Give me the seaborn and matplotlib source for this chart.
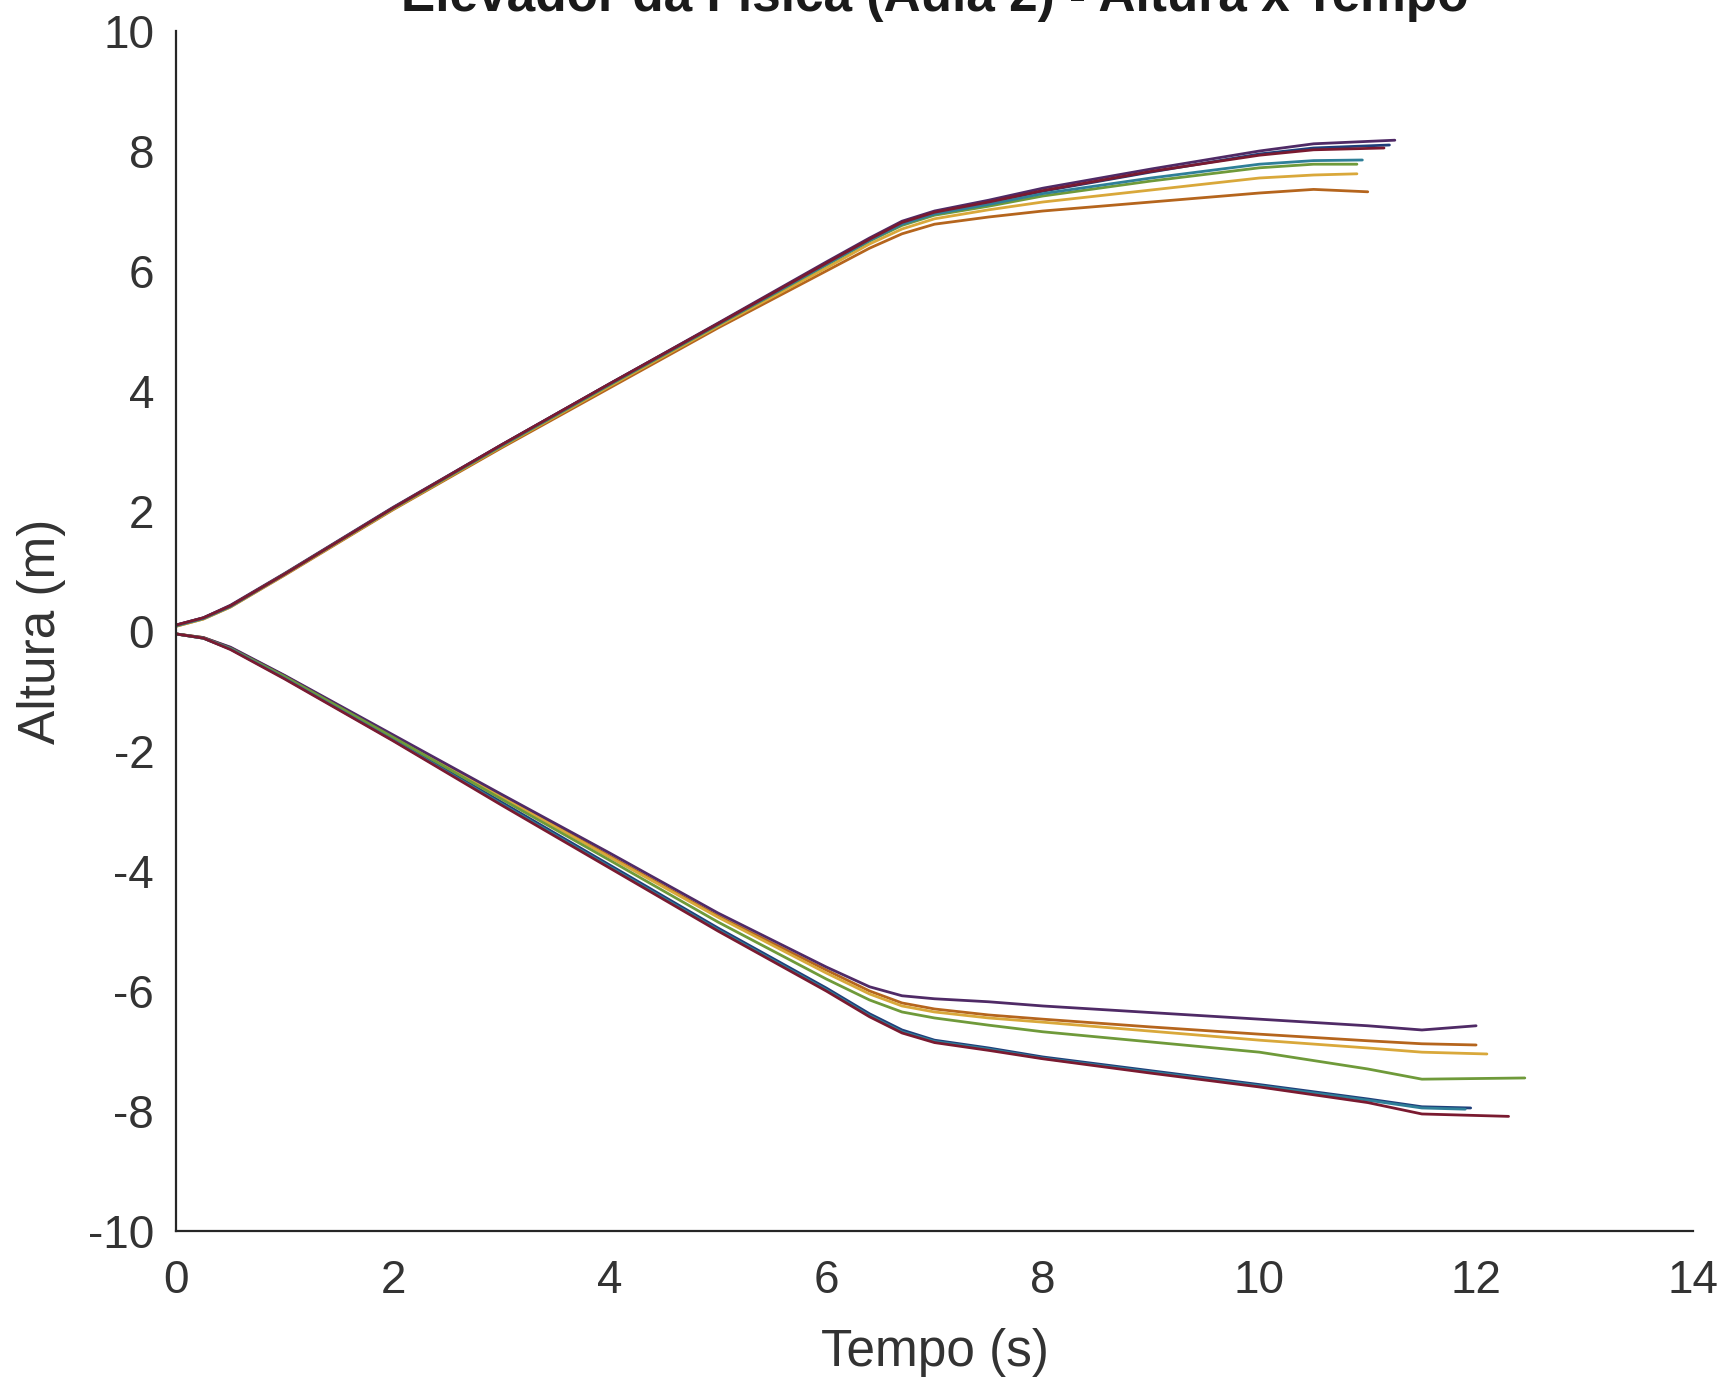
import numpy as np
import pandas as pd
import matplotlib
matplotlib.use("Agg")
import matplotlib.pyplot as plt
import seaborn as sns

# ---------------- data ----------------
TITLE = "Elevador da Física (Aula 2) - Altura x Tempo"
XLABEL = "Tempo (s)"
YLABEL = "Altura (m)"
XTICKS = [0, 2, 4, 6, 8, 10, 12, 14]
YTICKS = [-10, -8, -6, -4, -2, 0, 2, 4, 6, 8, 10]

# Subida (upper group)
t_up_blue = [0, 0.25, 0.5, 1, 2, 3, 4, 5, 6, 6.4, 6.7, 7.0, 7.5, 8, 9, 10, 10.5, 11.2]
h_up_blue = [0.10, 0.22, 0.42, 0.95, 2.05, 3.10, 4.12, 5.12, 6.12, 6.52, 6.80, 6.98, 7.15, 7.33, 7.65, 7.95, 8.05, 8.10]
t_up_orange = [0, 0.25, 0.5, 1, 2, 3, 4, 5, 6, 6.4, 6.7, 7.0, 7.5, 8, 9, 10, 10.5, 11.0]
h_up_orange = [0.08, 0.20, 0.40, 0.93, 2.02, 3.05, 4.05, 5.05, 6.00, 6.38, 6.62, 6.78, 6.90, 7.00, 7.15, 7.30, 7.36, 7.32]
t_up_yellow = [0, 0.25, 0.5, 1, 2, 3, 4, 5, 6, 6.4, 6.7, 7.0, 7.5, 8, 9, 10, 10.5, 10.9]
h_up_yellow = [0.08, 0.20, 0.40, 0.94, 2.03, 3.07, 4.08, 5.08, 6.05, 6.45, 6.70, 6.87, 7.02, 7.15, 7.35, 7.55, 7.60, 7.62]
t_up_purple = [0, 0.25, 0.5, 1, 2, 3, 4, 5, 6, 6.4, 6.7, 7.0, 7.5, 8, 9, 10, 10.5, 11.25]
h_up_purple = [0.10, 0.22, 0.43, 0.96, 2.06, 3.10, 4.12, 5.13, 6.15, 6.55, 6.83, 7.00, 7.18, 7.38, 7.70, 8.00, 8.12, 8.18]
t_up_green = [0, 0.25, 0.5, 1, 2, 3, 4, 5, 6, 6.4, 6.7, 7.0, 7.5, 8, 9, 10, 10.5, 10.9]
h_up_green = [0.09, 0.21, 0.41, 0.95, 2.04, 3.08, 4.10, 5.10, 6.10, 6.50, 6.76, 6.93, 7.08, 7.25, 7.50, 7.72, 7.78, 7.78]
t_up_cyan = [0, 0.25, 0.5, 1, 2, 3, 4, 5, 6, 6.4, 6.7, 7.0, 7.5, 8, 9, 10, 10.5, 10.95]
h_up_cyan = [0.09, 0.21, 0.41, 0.95, 2.05, 3.09, 4.11, 5.11, 6.11, 6.51, 6.78, 6.95, 7.11, 7.29, 7.55, 7.78, 7.84, 7.85]
t_up_red = [0, 0.25, 0.5, 1, 2, 3, 4, 5, 6, 6.4, 6.7, 7.0, 7.5, 8, 9, 10, 10.5, 11.15]
h_up_red = [0.10, 0.22, 0.42, 0.95, 2.05, 3.10, 4.12, 5.12, 6.13, 6.53, 6.81, 6.98, 7.15, 7.34, 7.66, 7.93, 8.02, 8.05]

# Descida (lower group)
t_dn_blue = [0, 0.25, 0.5, 1, 2, 3, 4, 5, 6, 6.4, 6.7, 7.0, 7.5, 8, 9, 10, 11, 11.5, 11.95]
h_dn_blue = [-0.05, -0.12, -0.30, -0.78, -1.80, -2.85, -3.90, -4.95, -5.95, -6.38, -6.65, -6.82, -6.95, -7.10, -7.33, -7.56, -7.80, -7.93, -7.95]
t_dn_orange = [0, 0.25, 0.5, 1, 2, 3, 4, 5, 6, 6.4, 6.7, 7.0, 7.5, 8, 9, 10, 11, 11.5, 12.0]
h_dn_orange = [-0.05, -0.11, -0.28, -0.75, -1.75, -2.75, -3.75, -4.75, -5.65, -6.00, -6.20, -6.30, -6.40, -6.47, -6.60, -6.72, -6.83, -6.88, -6.90]
t_dn_yellow = [0, 0.25, 0.5, 1, 2, 3, 4, 5, 6, 6.4, 6.7, 7.0, 7.5, 8, 9, 10, 11, 11.5, 12.1]
h_dn_yellow = [-0.05, -0.11, -0.28, -0.75, -1.75, -2.76, -3.77, -4.77, -5.70, -6.05, -6.25, -6.35, -6.45, -6.52, -6.67, -6.82, -6.95, -7.02, -7.05]
t_dn_purple = [0, 0.25, 0.5, 1, 2, 3, 4, 5, 6, 6.4, 6.7, 7.0, 7.5, 8, 9, 10, 11, 11.5, 12.0]
h_dn_purple = [-0.05, -0.11, -0.27, -0.74, -1.73, -2.72, -3.70, -4.70, -5.60, -5.93, -6.08, -6.13, -6.18, -6.25, -6.36, -6.47, -6.58, -6.65, -6.58]
t_dn_green = [0, 0.25, 0.5, 1, 2, 3, 4, 5, 6, 6.4, 6.7, 7.0, 7.5, 8, 9, 10, 11, 11.5, 12.45]
h_dn_green = [-0.05, -0.12, -0.29, -0.76, -1.77, -2.80, -3.82, -4.85, -5.80, -6.15, -6.35, -6.45, -6.57, -6.68, -6.85, -7.02, -7.30, -7.47, -7.45]
t_dn_cyan = [0, 0.25, 0.5, 1, 2, 3, 4, 5, 6, 6.4, 6.7, 7.0, 7.5, 8, 9, 10, 11, 11.5, 11.9]
h_dn_cyan = [-0.05, -0.12, -0.30, -0.79, -1.82, -2.88, -3.93, -4.98, -5.98, -6.41, -6.68, -6.84, -6.97, -7.12, -7.35, -7.58, -7.82, -7.95, -7.97]
t_dn_red = [0, 0.25, 0.5, 1, 2, 3, 4, 5, 6, 6.4, 6.7, 7.0, 7.5, 8, 9, 10, 11, 11.5, 12.3]
h_dn_red = [-0.05, -0.12, -0.31, -0.80, -1.83, -2.90, -3.95, -5.00, -6.00, -6.43, -6.70, -6.86, -6.99, -7.13, -7.37, -7.60, -7.86, -8.05, -8.09]

SERIES = [
    ("up_blue", t_up_blue, h_up_blue), ("up_orange", t_up_orange, h_up_orange),
    ("up_yellow", t_up_yellow, h_up_yellow), ("up_purple", t_up_purple, h_up_purple),
    ("up_green", t_up_green, h_up_green), ("up_cyan", t_up_cyan, h_up_cyan),
    ("up_red", t_up_red, h_up_red),
    ("dn_blue", t_dn_blue, h_dn_blue), ("dn_orange", t_dn_orange, h_dn_orange),
    ("dn_yellow", t_dn_yellow, h_dn_yellow), ("dn_purple", t_dn_purple, h_dn_purple),
    ("dn_green", t_dn_green, h_dn_green), ("dn_cyan", t_dn_cyan, h_dn_cyan),
    ("dn_red", t_dn_red, h_dn_red),
]

# MATLAB-like line colours (slightly darkened, as in the picture)
COLORS = {
    "blue": "#1f3f7a", "orange": "#b5651d", "yellow": "#d9a83a", "purple": "#4f2a66",
    "green": "#6f9a3a", "cyan": "#2f7f98", "red": "#7a1a30",
}
palette = {name: COLORS[name.split("_")[1]] for name, _, _ in SERIES}

rows = []
for name, ts, hs in SERIES:
    for i, (t, h) in enumerate(zip(ts, hs)):
        rows.append({"serie": name, "t": t, "h": h, "i": i})
df = pd.DataFrame(rows)

# ---------------- plot ----------------
sns.set_theme(style="white")
plt.rcParams["font.family"] = ["Liberation Sans", "DejaVu Sans"]

fig = plt.figure(figsize=(17.29, 13.78), dpi=100)
ax = fig.add_axes([0.102, 0.1067, 0.877, 0.8708])

sns.lineplot(data=df, x="t", y="h", hue="serie", palette=palette, units="serie",
             estimator=None, sort=False, legend=False, linewidth=2.0, ax=ax)

ax.set_xlim(0, 14)
ax.set_ylim(-10, 10)
ax.set_xticks(XTICKS)
ax.set_yticks(YTICKS)
ax.set_xticklabels([str(v) for v in XTICKS])
ax.set_yticklabels([str(v) for v in YTICKS])

for side in ["top", "right"]:
    ax.spines[side].set_visible(False)
for side in ["left", "bottom"]:
    ax.spines[side].set_color("#262626")
    ax.spines[side].set_linewidth(1.6)

ax.tick_params(axis="both", direction="in", length=10, width=1.6, color="#262626",
               labelsize=33, labelcolor="#333333")
ax.tick_params(axis="x", pad=20)
ax.tick_params(axis="y", pad=16)

ax.set_xlabel(XLABEL, fontsize=37, color="#333333", labelpad=18)
ax.set_ylabel(YLABEL, fontsize=37, color="#333333", labelpad=16)

fig.text(0.5405, 1 - 11 / 1378, TITLE, ha="center", va="baseline",
         fontsize=37, fontweight="bold", color="#1a1a1a")

fig.savefig("out.png", dpi=100, facecolor="white")
